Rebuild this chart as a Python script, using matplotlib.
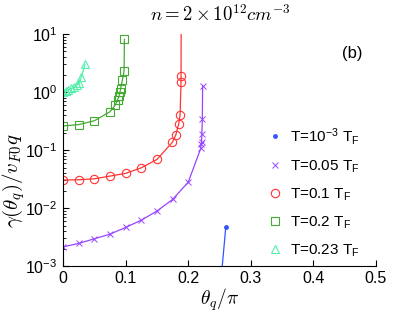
import matplotlib
matplotlib.use('Agg')
import matplotlib.pyplot as plt
from matplotlib.ticker import LogLocator, NullFormatter

plt.rcParams['font.family'] = ['Liberation Sans', 'DejaVu Sans']
plt.rcParams['mathtext.fontset'] = 'custom'
plt.rcParams['mathtext.rm'] = 'Liberation Sans'
plt.rcParams['mathtext.it'] = 'Liberation Sans:italic'

# T = 1e-3 T_F
x_t0 = [0.2535, 0.260]
y_t0 = [8e-4, 4.7e-3]

# T = 0.05 T_F
x_t1 = [0, 0.025, 0.05, 0.075, 0.1, 0.125, 0.15, 0.175, 0.2, 0.22, 0.2205, 0.2212, 0.2218, 0.2225, 0.223]
y_t1 = [2.15e-3, 2.46e-3, 2.96e-3, 3.56e-3, 4.65e-3, 6.2e-3, 8.9e-3, 1.41e-2, 2.8e-2,
        0.107, 0.125, 0.136, 0.187, 0.342, 1.28]

# T = 0.1 T_F
x_t2 = [0, 0.025, 0.05, 0.075, 0.1, 0.125, 0.15, 0.1746, 0.18, 0.1848, 0.187, 0.1885, 0.1885, 0.1887]
y_t2 = [0.0304, 0.0308, 0.032, 0.0356, 0.0397, 0.0495, 0.069, 0.136, 0.18, 0.284, 0.41, 1.51, 1.91, 20.0]

# T = 0.2 T_F
x_t3 = [0, 0.025, 0.05, 0.075, 0.0835, 0.087, 0.0895, 0.091, 0.092, 0.0947, 0.0975, 0.098]
y_t3 = [0.26, 0.275, 0.32, 0.458, 0.6, 0.73, 0.85, 1.0, 1.15, 1.6, 2.33, 8.1]

# T = 0.23 T_F
x_t4 = [0, 0.004, 0.0085, 0.013, 0.0176, 0.022, 0.026, 0.029, 0.035]
y_t4 = [1.0, 1.05, 1.08, 1.16, 1.23, 1.32, 1.41, 1.8, 3.0]

labels = ['T=10$^{-3}$ T$_{\\rm F}$', 'T=0.05 T$_{\\rm F}$', 'T=0.1 T$_{\\rm F}$',
          'T=0.2 T$_{\\rm F}$', 'T=0.23 T$_{\\rm F}$']

fig = plt.figure(figsize=(4.15, 3.12), dpi=100)
ax = fig.add_axes([0.152, 0.147, 0.754, 0.744])

ax.plot(x_t0, y_t0, color='#3355ff', lw=0.9, marker='.', ms=5, label=labels[0])
ax.plot(x_t1, y_t1, color='#9944ff', lw=0.9, marker='x', ms=4, mew=0.7, label=labels[1])
ax.plot(x_t2, y_t2, color='#ff3333', lw=0.9, marker='o', ms=6, mfc='none', mew=0.8, label=labels[2])
ax.plot(x_t3, y_t3, color='#44aa33', lw=0.9, marker='s', ms=5.5, mfc='none', mew=0.8, label=labels[3])
ax.plot(x_t4, y_t4, color='#55eeaa', lw=0.9, marker='^', ms=6, mfc='none', mew=0.8, label=labels[4])

ax.set_yscale('log')
ax.set_xlim(0, 0.5)
ax.set_ylim(1e-3, 10)
ax.set_xticks([0, 0.1, 0.2, 0.3, 0.4, 0.5])
ax.set_xticklabels(['0', '0.1', '0.2', '0.3', '0.4', '0.5'])
ax.yaxis.set_minor_locator(LogLocator(base=10, subs=range(2, 10)))
ax.yaxis.set_minor_formatter(NullFormatter())
ax.tick_params(which='both', direction='in', labelsize=11.5)
ax.tick_params(which='major', length=4)
ax.tick_params(which='minor', length=2)
ax.tick_params(axis='y', pad=4)
ax.spines['top'].set_visible(False)
ax.spines['right'].set_visible(False)

ax.set_xlabel(r'$\theta_q/\pi$', fontsize=14, math_fontfamily='cm', labelpad=0)
fig.text(0.032, 0.42, r'$\gamma(\theta_q)/v_{F0}q$', fontsize=15, math_fontfamily='cm',
         rotation=90, ha='center', va='center')
fig.text(0.53, 0.952, r'$n=2\times10^{12}cm^{-3}$', fontsize=13.5, math_fontfamily='cm',
         ha='center', va='center')
fig.text(0.848, 0.83, '(b)', fontsize=12, ha='center', va='center')

ax.legend(loc='upper left', bbox_to_anchor=(0.618, 0.64), bbox_transform=fig.transFigure,
          frameon=False, fontsize=11, handlelength=0.6, handletextpad=0.7,
          labelspacing=0.75, numpoints=1)
leg = ax.get_legend()
for line in leg.get_lines():
    line.set_linestyle('none')

fig.savefig('out.png', dpi=100)
